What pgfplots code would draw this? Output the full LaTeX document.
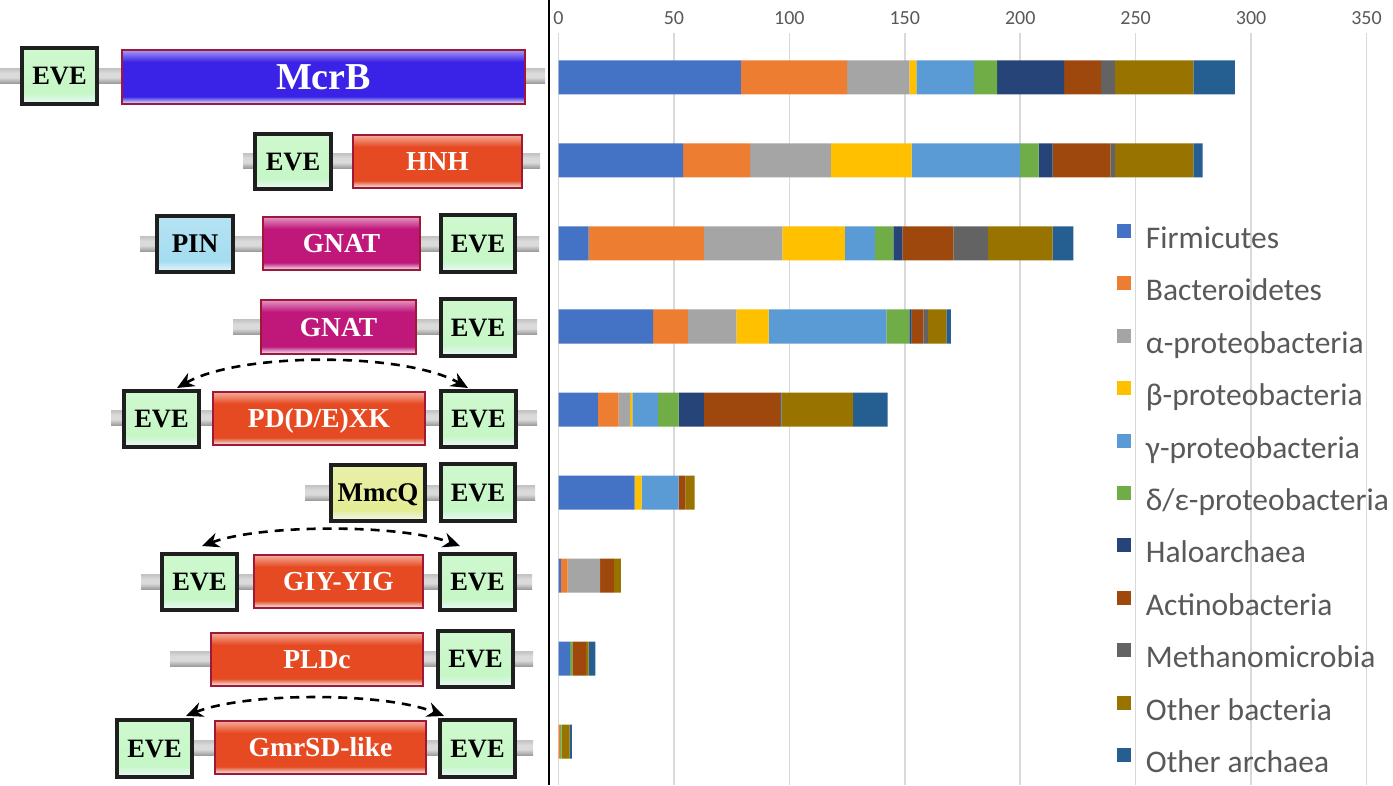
\documentclass[border=0pt]{standalone}
\usepackage{pgfplots}
\pgfplotsset{compat=1.18}
\usepackage{fontspec}
\setmainfont{Carlito}
\newfontfamily\domfont{Liberation Serif}
\usetikzlibrary{arrows.meta}

\definecolor{cFirm}{HTML}{4472C4}
\definecolor{cBact}{HTML}{ED7D31}
\definecolor{cAlpha}{HTML}{A5A5A5}
\definecolor{cBeta}{HTML}{FFC000}
\definecolor{cGamma}{HTML}{5B9BD5}
\definecolor{cDelta}{HTML}{70AD47}
\definecolor{cHalo}{HTML}{264478}
\definecolor{cActino}{HTML}{9E480E}
\definecolor{cMethano}{HTML}{636363}
\definecolor{cOthB}{HTML}{997300}
\definecolor{cOthA}{HTML}{255E91}
\definecolor{tickgray}{HTML}{595959}
\definecolor{gridgray}{HTML}{D9D9D9}

\definecolor{mblue}{HTML}{3A22E6}
\definecolor{mred}{HTML}{E64A22}
\definecolor{mmag}{HTML}{C0187A}
\definecolor{mpin}{HTML}{A4DCF0}
\definecolor{mmmc}{HTML}{E4EC94}
\definecolor{meve}{HTML}{C6F7C6}
\definecolor{botw}{HTML}{EEF8FC}
\definecolor{domborder}{HTML}{A01838}
\definecolor{bbtop}{HTML}{C4C4C4}
\definecolor{bbmid}{HTML}{DADADA}
\definecolor{bbbot}{HTML}{989898}

\pgfdeclareverticalshading{bbshade}{100bp}{color(0bp)=(bbbot); color(25bp)=(bbbot); color(45bp)=(bbmid); color(60bp)=(bbmid); color(75bp)=(bbtop); color(100bp)=(bbtop)}
\pgfdeclareverticalshading{shblue}{100bp}{color(0bp)=(botw); color(25bp)=(botw); color(32bp)=(mblue); color(64bp)=(mblue); color(72bp)=(mblue!60!white); color(75bp)=(mblue!45!white); color(100bp)=(mblue!45!white)}
\pgfdeclareverticalshading{shred}{100bp}{color(0bp)=(botw); color(25bp)=(botw); color(32bp)=(mred); color(64bp)=(mred); color(72bp)=(mred!60!white); color(75bp)=(mred!45!white); color(100bp)=(mred!45!white)}
\pgfdeclareverticalshading{shmag}{100bp}{color(0bp)=(botw); color(25bp)=(botw); color(32bp)=(mmag); color(64bp)=(mmag); color(72bp)=(mmag!60!white); color(75bp)=(mmag!45!white); color(100bp)=(mmag!45!white)}
\pgfdeclareverticalshading{shpin}{100bp}{color(0bp)=(botw); color(25bp)=(botw); color(35bp)=(mpin); color(75bp)=(mpin!80!white); color(100bp)=(mpin!80!white)}
\pgfdeclareverticalshading{shmmc}{100bp}{color(0bp)=(botw); color(25bp)=(botw); color(35bp)=(mmmc); color(75bp)=(mmmc!80!white); color(100bp)=(mmmc!80!white)}
\pgfdeclareverticalshading{sheve}{100bp}{color(0bp)=(botw); color(25bp)=(botw); color(35bp)=(meve); color(75bp)=(meve!85!white); color(100bp)=(meve!85!white)}

% backbone: x1 x2 ycenter
\newcommand\bb[3]{\shade[shading=bbshade] (#1,#3-7.5) rectangle (#2,#3+7.5);}
% EVE box: x1 x2 y1 y2
\newcommand\eve[4]{%
  \shade[shading=sheve] (#1,#3) rectangle (#2,#4);
  \draw[line width=3.2pt, black!88] (#1,#3) rectangle (#2,#4);
  \node[anchor=base, inner sep=0pt, font=\domfont\bfseries\fontsize{26.5}{28}\selectfont] at ({(#1+#2)/2},{(#3+#4)/2+0.33*26.5}) {EVE};}
% domain box: x1 x2 y1 y2 shading label textcolor fontsize
\newcommand\dom[8]{%
  \shade[shading=#5] (#1,#3) rectangle (#2,#4);
  \draw[line width=2.2pt, domborder] (#1,#3) rectangle (#2,#4);
  \node[anchor=base, inner sep=0pt, text=#7, font=\domfont\bfseries\fontsize{#8}{#8}\selectfont] at ({(#1+#2)/2},{(#3+#4)/2+0.33*#8}) {#6};}
% black-bordered domain (PIN, MmcQ)
\newcommand\kdom[6]{%
  \shade[shading=#5] (#1,#3) rectangle (#2,#4);
  \draw[line width=3.2pt, black!88] (#1,#3) rectangle (#2,#4);
  \node[anchor=base, inner sep=0pt, font=\domfont\bfseries\fontsize{27}{27}\selectfont] at ({(#1+#2)/2},{(#3+#4)/2+0.33*27}) {#6};}
\tikzset{arc/.style={line width=2.6pt, dash pattern=on 9pt off 7pt, {Stealth[length=17pt,width=15pt]}-{Stealth[length=17pt,width=15pt]}}}

\begin{document}
\begin{tikzpicture}
\path[use as bounding box] (0,0) rectangle (1393pt,785pt);
\fill[white] (0,0) rectangle (1393pt,785pt);
\begin{axis}[
  at={(558.5pt,752pt)}, anchor=north west,
  scale only axis, width=808pt, height=752pt,
  xmin=0, xmax=350, ymin=-0.536, ymax=8.524,
  y dir=reverse,
  xbar stacked, bar width=34pt,
  axis x line*=top, axis y line*=left,
  axis line style={draw=none},
  xtick={0,50,...,350}, ytick=\empty,
  xmajorgrids, major grid style={draw=gridgray, line width=1.5pt},
  tick style={draw=none},
  /pgf/number format/assume math mode=true,
  xticklabel style={font=\fontsize{20}{24}\selectfont, text=tickgray, yshift=5pt},
  legend cell align=left,
  legend image code/.code={\fill[#1,draw=none] (0pt,3pt) rectangle (14pt,17pt);},
  legend style={at={(axis description cs:0.6912,0.7460)}, anchor=north west,
    draw=none, fill=none, inner sep=0pt, outer sep=0pt,
    font=\fontsize{31.5}{36}\selectfont, text=tickgray,
    nodes={inner sep=0pt, text height=22pt, text depth=7pt},
    row sep=20.9pt,
    /tikz/every odd column/.append style={column sep=15pt}},
]
\addplot[fill=cFirm, draw=none] coordinates {(79,0) (54,1) (13,2) (41,3) (17,4) (33,5) (1,6) (5,7) (0,8)};
\addplot[fill=cBact, draw=none] coordinates {(46,0) (29,1) (50,2) (15,3) (9,4) (0,5) (3,6) (0,7) (0.7,8)};
\addplot[fill=cAlpha, draw=none] coordinates {(27,0) (35,1) (34,2) (21,3) (5,4) (0,5) (14,6) (0,7) (0,8)};
\addplot[fill=cBeta, draw=none] coordinates {(3,0) (35,1) (27,2) (14,3) (1,4) (3,5) (0,6) (0,7) (0,8)};
\addplot[fill=cGamma, draw=none] coordinates {(25,0) (47,1) (13,2) (51,3) (11,4) (16,5) (0,6) (0,7) (0,8)};
\addplot[fill=cDelta, draw=none] coordinates {(10,0) (8,1) (8,2) (10,3) (9,4) (0,5) (0,6) (1,7) (0.7,8)};
\addplot[fill=cHalo, draw=none] coordinates {(29,0) (6,1) (4,2) (1,3) (11,4) (0,5) (0,6) (0,7) (0,8)};
\addplot[fill=cActino, draw=none] coordinates {(16,0) (25,1) (22,2) (5,3) (33,4) (3,5) (6,6) (6,7) (0,8)};
\addplot[fill=cMethano, draw=none] coordinates {(6,0) (2,1) (15,2) (2,3) (0.6,4) (0,5) (0,6) (0,7) (0,8)};
\addplot[fill=cOthB, draw=none] coordinates {(34,0) (34,1) (28,2) (8,3) (31,4) (4,5) (3,6) (1,7) (3.4,8)};
\addplot[fill=cOthA, draw=none] coordinates {(18,0) (4,1) (9,2) (2,3) (15,4) (0,5) (0,6) (3,7) (1,8)};
\legend{Firmicutes, Bacteroidetes, α-proteobacteria, β-proteobacteria, γ-proteobacteria, δ/ε-proteobacteria, Haloarchaea, Actinobacteria, Methanomicrobia, Other bacteria, Other archaea}
\end{axis}

\begin{scope}[x=1pt, y=-1pt, yshift=785pt]
\draw[line width=2.5pt, black] (549,0) -- (549,785);
% row 1
\bb{0}{545}{76}
\eve{22}{97}{48}{104}
\dom{122}{525}{50}{104}{shblue}{McrB}{white}{38}
% row 2
\bb{243}{540}{161}
\eve{255}{331}{134}{189}
\dom{353}{522}{135}{188}{shred}{HNH}{white}{27.5}
% row 3
\bb{140}{539}{244}
\kdom{157}{233}{216}{272}{shpin}{PIN}
\dom{263}{420}{217}{270}{shmag}{GNAT}{white}{27.5}
\eve{441}{515}{215}{272}
% row 4
\bb{233}{537}{327}
\dom{261}{416}{300}{354}{shmag}{GNAT}{white}{27.5}
\eve{441}{515}{299}{356}
% row 5
\bb{111}{537}{418}
\eve{124}{199}{391}{447}
\dom{213}{425}{392}{445}{shred}{PD(D/E)XK}{white}{27.5}
\eve{441}{516}{391}{447}
\draw[arc] (177,388) .. controls (240,352) and (405,352) .. (468,388);
% row 6
\bb{305}{535}{493}
\kdom{331}{425}{465}{521}{shmmc}{MmcQ}
\eve{441}{515}{464}{521}
% row 7
\bb{141}{532}{582}
\eve{162}{237}{554}{610}
\dom{254}{423}{555}{608}{shred}{GIY-YIG}{white}{27.5}
\eve{440}{515}{554}{610}
\draw[arc] (202,546) .. controls (262,524) and (400,524) .. (460,546);
% row 8
\bb{170}{533}{659}
\dom{211}{423}{633}{686}{shred}{PLDc}{white}{27.5}
\eve{438}{513}{631}{687}
% row 9
\bb{115}{533}{748}
\eve{117}{192}{720}{777}
\dom{215}{426}{721}{774}{shred}{GmrSD-like}{white}{27.5}
\eve{440}{515}{720}{777}
\draw[arc] (186,716) .. controls (246,692) and (384,692) .. (444,716);
\end{scope}
\end{tikzpicture}
\end{document}
